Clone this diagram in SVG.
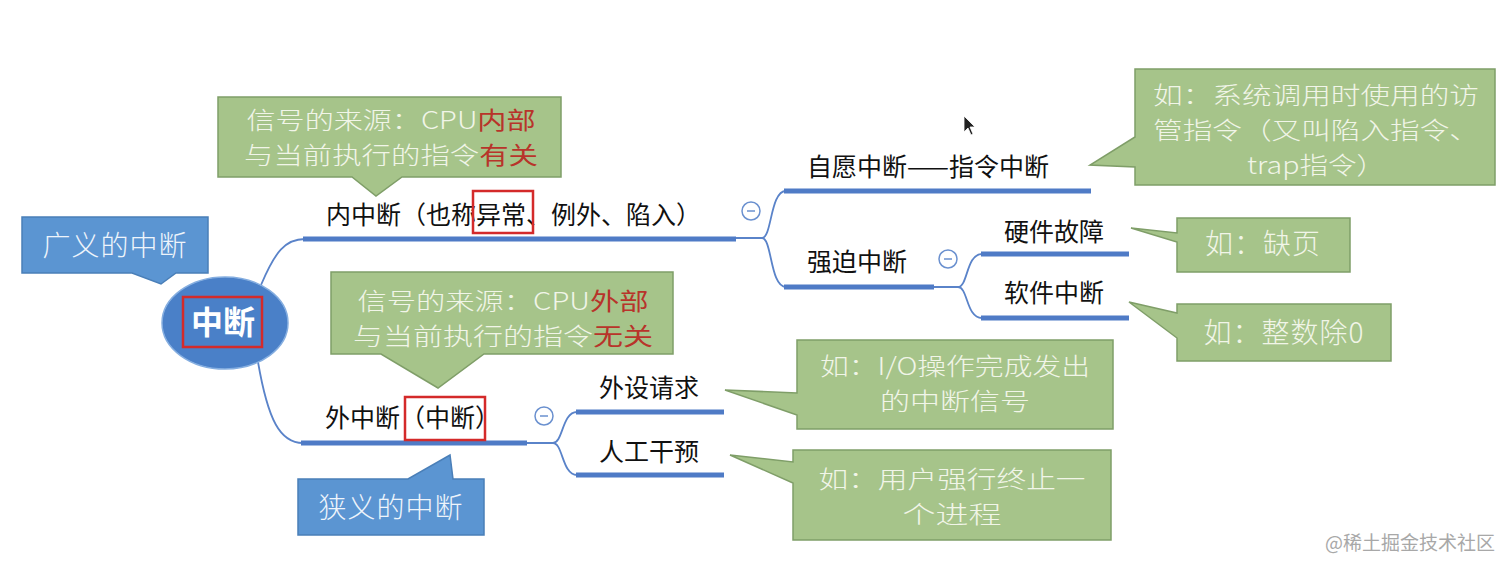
<svg xmlns="http://www.w3.org/2000/svg" width="1512" height="571" viewBox="0 0 1512 571">
<style>
.node{font-family:"Noto Sans CJK SC","Noto Sans",sans-serif;font-size:25px;fill:#111}
.note{font-family:"Noto Sans CJK SC","Noto Sans",sans-serif;font-size:28px;font-weight:300;fill:#f1f5e8;text-anchor:middle;letter-spacing:1px}
.note2{font-family:"Noto Sans CJK SC","Noto Sans",sans-serif;font-size:24px;font-weight:300;fill:#f1f5e8;text-anchor:middle}
.red{fill:#b8342a;font-weight:400}
.bluet{font-family:"Noto Sans CJK SC","Noto Sans",sans-serif;font-size:28px;font-weight:300;fill:#eef4fb;letter-spacing:1px}
.green{fill:#a6c48a;stroke:#7f9e68;stroke-width:1.5}
.blue{fill:#5b95d2;stroke:#4a7fb8;stroke-width:1.5}
.under{stroke:#4f7bc6;stroke-width:5;fill:none}
.thin{stroke:#5a83c9;stroke-width:1.8;fill:none}
.tog{fill:#fff;stroke:#6a90cf;stroke-width:1.5}
.minus{stroke:#6a90cf;stroke-width:1.5}
.hl{fill:none;stroke:#d42a2a;stroke-width:2.5}
</style>
<rect width="1512" height="571" fill="#ffffff"/>

<g id="connectors">
  <path class="thin" d="M261,285 C275,252 285,239 305,239"/>
  <path class="under" d="M303,239 H736"/>
  <path class="thin" d="M736,238 H762 C772,238 770,191 786,191"/>
  <path class="thin" d="M762,238 C772,238 770,287 786,287"/>
  <path class="under" d="M784,191 H1091"/>
  <path class="under" d="M784,287 H934"/>
  <path class="thin" d="M934,287 H958 C968,287 966,254 982,254"/>
  <path class="thin" d="M958,287 C968,287 966,318 982,318"/>
  <path class="under" d="M981,254 H1129"/>
  <path class="under" d="M981,318 H1129"/>
  <path class="thin" d="M258,362 C268,420 280,443 303,443"/>
  <path class="under" d="M301,443 H527"/>
  <path class="thin" d="M527,443 H553 C563,443 562,412 577,412"/>
  <path class="thin" d="M553,443 C563,443 562,475 577,475"/>
  <path class="under" d="M576,412 H724"/>
  <path class="under" d="M576,475 H724"/>
</g>

<g id="toggle-inner"><circle class="tog" cx="751" cy="211" r="9"/><path class="minus" d="M747,211 H755"/></g>
<g id="toggle-forced"><circle class="tog" cx="948" cy="259" r="9"/><path class="minus" d="M944,259 H952"/></g>
<g id="toggle-outer"><circle class="tog" cx="544" cy="416" r="9"/><path class="minus" d="M540,416 H548"/></g>

<g id="root">
  <ellipse cx="225" cy="323" rx="63" ry="46" fill="#4a80c8" stroke="#85aee0" stroke-width="1.5"/>
  <text x="223" y="334" text-anchor="middle" font-family="'Noto Sans CJK SC','Noto Sans',sans-serif" font-size="32" font-weight="700" fill="#ffffff">中断</text>
  <rect class="hl" x="183" y="297" width="79" height="50"/>
</g>

<g id="note-broad">
  <path class="blue" d="M22,217 H208 V273 H176 L161,284 L132,273 H22 Z"/>
  <text class="bluet" x="115" y="256" text-anchor="middle">广义的中断</text>
</g>

<g id="note-inner-source">
  <path class="green" d="M218,97 H561 V177 H402 L376,196 L352,177 H218 Z"/>
  <text class="note2" x="391" y="129" textLength="289" lengthAdjust="spacingAndGlyphs">信号的来源：CPU<tspan class="red">内部</tspan></text>
  <text class="note2" x="391" y="164" textLength="294" lengthAdjust="spacingAndGlyphs">与当前执行的指令<tspan class="red">有关</tspan></text>
</g>

<g id="inner">
  <text class="node" x="326" y="224">内中断（也称异常、例外、陷入）</text>
  <rect class="hl" x="473" y="191" width="60" height="42"/>
</g>

<g id="voluntary">
  <text class="node" x="807" y="176">自愿中断——指令中断</text>
</g>
<g id="note-voluntary">
  <path class="green" d="M1135,69 H1495 V185 H1135 V167 L1090,165 L1135,137 Z"/>
  <text class="note2" x="1316" y="104" textLength="326" lengthAdjust="spacingAndGlyphs">如：系统调用时使用的访</text>
  <text class="note2" x="1316" y="139" textLength="326" lengthAdjust="spacingAndGlyphs">管指令（又叫陷入指令、</text>
  <text class="note2" x="1316" y="174" textLength="138" lengthAdjust="spacingAndGlyphs">trap指令）</text>
</g>

<g id="forced"><text class="node" x="807" y="271">强迫中断</text></g>
<g id="hardware"><text class="node" x="1004" y="241">硬件故障</text></g>
<g id="software"><text class="node" x="1004" y="302">软件中断</text></g>

<g id="note-hardware">
  <path class="green" d="M1177,218 H1350 V272 H1177 V242 L1131,228 L1177,233 Z"/>
  <text class="note" x="1263" y="254">如：缺页</text>
</g>
<g id="note-software">
  <path class="green" d="M1177,304 H1391 V361 H1177 V338 L1129,302 L1177,313 Z"/>
  <text class="note" x="1284" y="343">如：整数除0</text>
</g>

<g id="note-outer-source">
  <path class="green" d="M331,272 H673 V354 H484 L438,388 L381,354 H331 Z"/>
  <text class="note2" x="503" y="310" textLength="291" lengthAdjust="spacingAndGlyphs">信号的来源：CPU<tspan class="red">外部</tspan></text>
  <text class="note2" x="503" y="345" textLength="300" lengthAdjust="spacingAndGlyphs">与当前执行的指令<tspan class="red">无关</tspan></text>
</g>

<g id="outer">
  <text class="node" x="325" y="427">外中断（中断）</text>
  <rect class="hl" x="405" y="397" width="80" height="43"/>
</g>

<g id="note-narrow">
  <path class="blue" d="M298,479 H408 L450,455 L453,479 H484 V535 H298 Z"/>
  <text class="bluet" x="391" y="518" text-anchor="middle">狭义的中断</text>
</g>

<g id="device"><text class="node" x="599" y="397">外设请求</text></g>
<g id="manual"><text class="node" x="599" y="461">人工干预</text></g>

<g id="note-device">
  <path class="green" d="M797,340 H1113 V429 H797 V415 L725,390 L797,393 Z"/>
  <text class="note2" x="955" y="375" textLength="270" lengthAdjust="spacingAndGlyphs">如：I/O操作完成发出</text>
  <text class="note2" x="955" y="410" textLength="150" lengthAdjust="spacingAndGlyphs">的中断信号</text>
</g>
<g id="note-manual">
  <path class="green" d="M793,450 H1111 V540 H793 V483 L730,455 L793,462 Z"/>
  <text class="note2" x="952" y="488" textLength="267" lengthAdjust="spacingAndGlyphs">如：用户强行终止一</text>
  <text class="note2" x="952" y="523" textLength="99" lengthAdjust="spacingAndGlyphs">个进程</text>
</g>

<path d="M964,116 L964,132 L968,128 L971,135 L973,134 L970,127 L975,127 Z" fill="#222" stroke="#fff" stroke-width="0.8"/>

<text x="1495" y="550" text-anchor="end" font-family="'Noto Sans CJK SC','Noto Sans',sans-serif" font-size="19" fill="#a8a8a8">@稀土掘金技术社区</text>
</svg>
